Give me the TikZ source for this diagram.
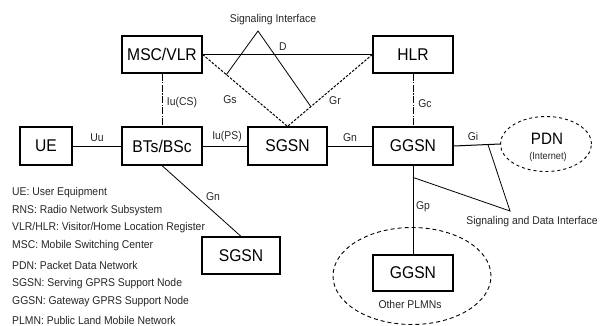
\documentclass[tikz,border=0pt]{standalone}
\usepackage{fontspec}
\setmainfont[FakeStretch=0.92]{Liberation Sans}
\usetikzlibrary{calc,shapes.geometric}
\begin{document}
\begin{tikzpicture}[x=1pt,y=-1pt,
  netbox/.style={draw,line width=1.2pt,rectangle,minimum width=80pt,minimum height=37pt,inner sep=0pt,font=\fontsize{17}{20}\selectfont},
  lbl/.style={inner sep=0pt,font=\fontsize{11.3}{13}\selectfont,text=black!85},
  legend/.style={inner sep=0pt,anchor=west,font=\fontsize{11.3}{13}\selectfont,text=black!85},
  link/.style={line width=1pt},
  sig/.style={line width=0.8pt},
  dlink/.style={line width=1pt,dash pattern=on 2.5pt off 1.5pt},
  ddlink/.style={line width=1pt,dash pattern=on 7pt off 1.5pt on 1.2pt off 1.5pt}]
\useasboundingbox (0,0) rectangle (611,325);
% boxes
\node[netbox] (msc) at (162,54.5) {MSC/VLR};
\node[netbox] (hlr) at (413,54.5) {HLR};
\node[netbox,minimum width=52pt,minimum height=38pt] (ue) at (46,146) {UE};
\node[netbox,minimum height=38pt] (bts) at (162,146) {BTs/BSc};
\node[netbox,minimum width=79pt,minimum height=38pt] (sgsn) at (287.5,146) {SGSN};
\node[netbox,minimum height=38pt] (ggsn) at (413,146) {GGSN};
\node[draw,ellipse,dashed,line width=0.9pt,minimum width=91pt,minimum height=55pt,inner sep=0pt] (pdn) at (546,144) {};
\node[inner sep=0pt,font=\fontsize{16.5}{18}\selectfont] (pdnt) at (547,139) {PDN};
\node[inner sep=0pt,font=\fontsize{10}{12}\selectfont,text=black!85] (inet) at (548,157) {(Internet)};
\node[netbox,minimum width=78pt] (sgsn2) at (241,255.5) {SGSN};
\node[netbox,minimum height=36pt] (ggsn2) at (413,273) {GGSN};
\node[draw,ellipse,line width=0.9pt,dash pattern=on 4pt off 3pt,minimum width=158pt,minimum height=97pt,inner sep=0pt] (plmn) at (412,276) {};
\node[lbl] (oplmn) at (410,304) {Other PLMNs};
% connectors
\draw[link] (msc.east) -- (hlr.west);
\draw[dlink] (msc.east) -- (sgsn.north);
\draw[dlink] (hlr.west) -- (sgsn.north);
\draw[ddlink] (msc.south) -- (bts.north);
\draw[ddlink] (hlr.south) -- (ggsn.north);
\draw[link] (ue.east) -- (bts.west);
\draw[link] (bts.east) -- (sgsn.west);
\draw[link] (sgsn.east) -- (ggsn.west);
\draw[link] (ggsn.east) -- (pdn.west);
\draw[link] (ggsn.south) -- (ggsn2.north);
\draw[sig] (bts.south) -- (sgsn2.north);
% signaling interface
\coordinate (sigtop) at (258,31);
\coordinate (gsp) at ($(msc.east)!0.28!(sgsn.north)$);
\coordinate (grp) at ($(hlr.west)!0.725!(sgsn.north)$);
\draw[sig] (gsp) -- (sigtop) -- (grp);
% signaling and data interface
\coordinate (sdtop) at (510,211);
\coordinate (gpp) at ($(ggsn.south)!0.133!(ggsn2.north)$);
\coordinate (gip) at ($(ggsn.east)!0.74!(pdn.west)$);
\draw[sig] (gpp) -- (sdtop) -- (gip);
% labels
\node[lbl] (lsig) at (273,20) {Signaling Interface};
\node[lbl] (ld) at (283,47) {D};
\node[lbl] (lgs) at (230,100) {Gs};
\node[lbl] (lgr) at (335,101) {Gr};
\node[lbl] (lcs) at (182,103) {Iu(CS)};
\node[lbl] (luu) at (97,138) {Uu};
\node[lbl] (lps) at (227,137) {Iu(PS)};
\node[lbl] (lgn) at (350,138) {Gn};
\node[lbl] (lgc) at (425,104) {Gc};
\node[lbl] (lgi) at (473,136) {Gi};
\node[lbl] (lgn2) at (213,197) {Gn};
\node[lbl] (lgp) at (423,207) {Gp};
\node[lbl] (lsd) at (532,222) {Signaling and Data Interface};
% legend
\node[legend] (k1) at (12,193) {UE: User Equipment};
\node[legend] (k2) at (12,211) {RNS: Radio Network Subsystem};
\node[legend] (k3) at (12,228) {VLR/HLR: Visitor/Home Location Register};
\node[legend] (k4) at (12,246) {MSC: Mobile Switching Center};
\node[legend] (k5) at (12,265) {PDN: Packet Data Network};
\node[legend] (k6) at (12,284) {SGSN: Serving GPRS Support Node};
\node[legend] (k7) at (12,302) {GGSN: Gateway GPRS Support Node};
\node[legend] (k8) at (12,320) {PLMN: Public Land Mobile Network};
\end{tikzpicture}
\end{document}
